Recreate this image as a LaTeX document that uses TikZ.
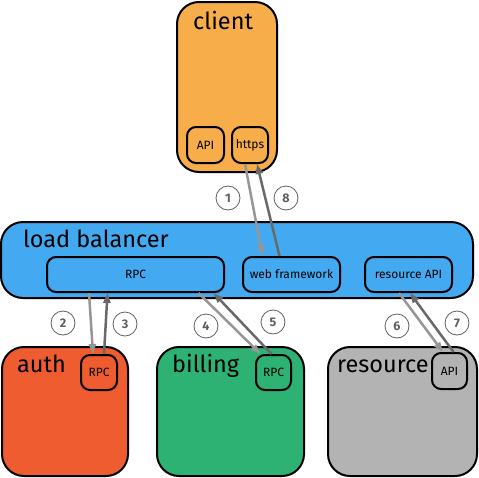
\documentclass[tikz,border=0pt]{standalone}
\usepackage{fontspec}
\setmainfont{Fira Sans}
\usetikzlibrary{arrows.meta}
\definecolor{clientcol}{RGB}{247,173,74}
\definecolor{lbcol}{RGB}{67,169,240}
\definecolor{authcol}{RGB}{239,92,48}
\definecolor{billcol}{RGB}{46,178,115}
\definecolor{rescol}{RGB}{179,179,179}
\definecolor{reqcol}{RGB}{150,150,150}
\definecolor{respcol}{RGB}{105,105,105}
\definecolor{numcol}{RGB}{95,95,95}

\begin{document}
\begin{tikzpicture}[x=1pt,y=-1pt,
        bigbox/.style={draw=black,line width=2pt,rounded corners=22pt,inner sep=0pt},
        smallbox/.style={draw=black,line width=2pt,rounded corners=9pt,inner sep=0pt,minimum height=35pt,font=\fontsize{12}{13}\selectfont},
        title/.style={anchor=base west,inner sep=0pt,font=\fontsize{23.5}{25}\selectfont},
        num/.style={circle,draw=numcol,line width=0.8pt,minimum size=24pt,inner sep=0pt,text=numcol,font=\fontsize{12.5}{13}\selectfont\bfseries},
        req/.style={draw=reqcol,line width=2.5pt,-{Triangle[length=10pt,width=7pt]}},
        resp/.style={draw=respcol,line width=2.5pt,-{Triangle[length=10pt,width=7pt]}}]
        \useasboundingbox (0,0) rectangle (479,477);
        \node[bigbox,fill=clientcol,minimum width=100pt,minimum height=170pt] (client) at (227,87) {};
        \node[bigbox,fill=lbcol,minimum width=472pt,minimum height=76pt] (lb) at (237,260) {};
        \node[bigbox,fill=authcol,minimum width=126pt,minimum height=129pt] (auth) at (65,411.5) {};
        \node[bigbox,fill=billcol,minimum width=147pt,minimum height=129pt] (billing) at (230.5,411.5) {};
        \node[bigbox,fill=rescol,minimum width=149pt,minimum height=129pt] (resource) at (402.5,411.5) {};
        \node[title] (clientlabel) at (193,29) {client};
        \node[title] (lblabel) at (23,247) {load balancer};
        \node[title] (authlabel) at (17,372) {auth};
        \node[title] (billinglabel) at (172,372) {billing};
        \node[title] (resourcelabel) at (337,372) {resource};
        \node[smallbox,fill=clientcol,minimum width=37pt,minimum height=36pt] (capi) at (205.5,145) {API};
        \node[smallbox,fill=clientcol,minimum width=36pt,minimum height=36pt] (https) at (250,145) {https};
        \node[smallbox,fill=lbcol,minimum width=177pt] (lbrpc) at (135.5,274.5) {RPC};
        \node[smallbox,fill=lbcol,minimum width=97pt] (wf) at (291.5,274.5) {web framework};
        \node[smallbox,fill=lbcol,minimum width=87pt] (resapi) at (408.5,274.5) {resource API};
        \node[smallbox,fill=authcol,minimum width=36pt] (arpc) at (99,372.5) {RPC};
        \node[smallbox,fill=billcol,minimum width=35pt] (brpc) at (273.5,372.5) {RPC};
        \node[smallbox,fill=rescol,minimum width=35pt,minimum height=36pt] (rapi) at (449.5,371) {API};
        \draw[req] ([xshift=-5pt]https.south) -- ([xshift=-29pt]wf.north);
        \draw[resp] ([xshift=-12pt]wf.north) -- ([xshift=7pt]https.south);
        \draw[req] ([xshift=-46.5pt]lbrpc.south) -- ([xshift=-6pt]arpc.north);
        \draw[resp] ([xshift=5pt]arpc.north) -- ([xshift=-28pt]lbrpc.south);
        \draw[req] ([xshift=63pt]lbrpc.south) -- ([xshift=-13pt]brpc.north);
        \draw[resp] ([xshift=-2pt]brpc.north) -- ([xshift=78pt]lbrpc.south);
        \draw[req] ([xshift=-9.5pt]resapi.south) -- ([xshift=-6.5pt]rapi.north);
        \draw[resp] ([xshift=4pt]rapi.north) -- ([xshift=1.5pt]resapi.south);
        \node[num] (n1) at (228,198) {1};
        \node[num] (n8) at (286,198) {8};
        \node[num] (n2) at (63,323) {2};
        \node[num] (n3) at (125,324) {3};
        \node[num] (n4) at (206,326) {4};
        \node[num] (n5) at (273,322) {5};
        \node[num] (n6) at (397,326) {6};
        \node[num] (n7) at (457,323) {7};
\end{tikzpicture}
\end{document}
